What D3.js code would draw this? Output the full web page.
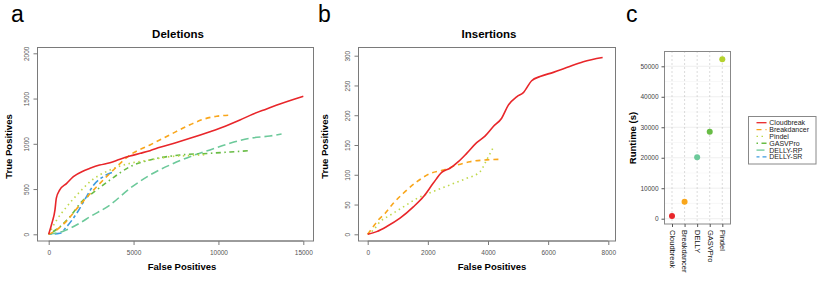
<!DOCTYPE html>
<html><head><meta charset="utf-8">
<script src="https://cdn.jsdelivr.net/npm/d3@7"></script>
<style>body{margin:0;background:#fff}svg{display:block;font-family:"Liberation Sans",Arial,Helvetica,sans-serif}</style>
</head><body><svg id="c" width="830" height="292"></svg>
<script>
// ---- Data ----
const methods = ["Cloudbreak","Breakdancer","Pindel","GASVPro","DELLY-RP","DELLY-SR"];
const colors = ["#E8262A","#F9A61B","#BFD84A","#68BC45","#6CC99A","#3D9BE0"];
const dashes = [null,"5,4","1.5,3.5","1.5,3.5,5,3.5","8,4","3,3,7,3"];

// Deletions (false positives, true positives)
const delCloudbreak = [[0,0],[200,130],[370,270],[450,400],[650,490],[1060,563],[1453,637],[2041,700],[2432,729],[3000,765],[3610,791],[4200,830],[4788,865],[5400,895],[5966,924],[6555,961],[7440,1010],[8322,1061],[9500,1134],[10400,1195],[11267,1263],[12053,1330],[12838,1385],[13623,1440],[14409,1490],[15000,1525]];
const delBreakdancer = [[0,0],[400,40],[860,110],[1843,325],[2827,526],[3610,674],[4788,876],[5966,987],[7144,1100],[8322,1210],[9100,1270],[9900,1305],[10800,1318]];
const delPindel = [[0,0],[471,158],[1060,305],[1843,471],[2432,581],[3610,711],[4788,784],[5966,821],[7144,858],[8300,870],[9300,880]];
const delGASVPro = [[0,0],[665,84],[1254,195],[2039,379],[2432,434],[2827,490],[3610,600],[4788,747],[5966,821],[7733,876],[9500,895],[10700,910],[11856,924]];
const delDellyRP = [[0,0],[860,35],[1843,125],[2432,194],[3610,324],[4788,508],[5966,655],[7144,766],[8322,858],[9500,932],[10678,1005],[11856,1061],[13034,1086],[13720,1108]];
const delDellySR = [[0,0],[665,11],[1060,84],[1649,232],[2238,420],[2627,540],[3216,637],[3900,692]];

// Insertions
const insCloudbreak = [[0,0],[299,4.5],[632,13],[1074,27],[1517,46],[1850,63],[2183,86],[2460,104],[2737,111],[3014,122],[3291,136],[3623,154],[3900,165],[4177,181],[4454,195],[4676,217],[4953,231],[5175,238],[5452,258],[5729,265],[6172,272],[6615,280],[7169,290],[7812,297]];
const insBreakdancer = [[0,0],[186,13],[352,24],[575,35],[851,52],[1184,69],[1629,88],[2072,102],[2515,108],[2958,116],[3401,122],[3956,125],[4399,126]];
const insPindel = [[0,0],[186,7],[409,21],[741,32],[1184,46],[1629,60],[2182,72],[2737,83],[3291,94],[3734,105],[3956,125],[4177,146]];

// Runtime
const runtimeTools = ["Cloudbreak","Breakdancer","DELLY","GASVPro","Pindel"];
const runtimeSeconds = [900,5600,20200,28500,52300];
const runtimeColors = ["#E8262A","#F9A61B","#6CC99A","#68BC45","#B5D22E"];

const delTicksX = [0,5000,10000,15000];
const delTicksY = [0,500,1000,1500,2000];
const insTicksX = [0,2000,4000,6000,8000];
const insTicksY = [0,50,100,150,200,250,300];
const runTicksY = [0,10000,20000,30000,40000,50000];

// ---- Drawing ----
const svg = d3.select("#c");
const boxCol = "#7a7a7a", tickTxt = "#555";

function basePanel(o){
  const g = svg.append("g");
  const x = d3.scaleLinear().domain(o.xd).range(o.xr);
  const y = d3.scaleLinear().domain(o.yd).range(o.yr);
  g.append("rect").attr("x",o.box[0]).attr("y",o.box[1]).attr("width",o.box[2]-o.box[0]).attr("height",o.box[3]-o.box[1])
    .attr("fill","none").attr("stroke",boxCol).attr("stroke-width",1);
  const xa = g.append("g").attr("transform",`translate(0,${o.box[3]})`)
    .call(d3.axisBottom(x).tickValues(o.xt).tickSize(4).tickPadding(5).tickFormat(d3.format("d")));
  xa.select(".domain").attr("d",`M${x(o.xt[0])},0H${x(o.xt[o.xt.length-1])}`).attr("stroke",boxCol);
  xa.selectAll("line").attr("stroke",boxCol);
  xa.selectAll("text").attr("font-size",6.5).attr("fill",tickTxt);
  const ya = g.append("g").attr("transform",`translate(${o.box[0]},0)`)
    .call(d3.axisLeft(y).tickValues(o.yt).tickSize(4).tickPadding(0).tickFormat(d3.format("d")));
  ya.select(".domain").attr("d",`M0,${y(o.yt[0])}V${y(o.yt[o.yt.length-1])}`).attr("stroke",boxCol);
  ya.selectAll("line").attr("stroke",boxCol);
  ya.selectAll("text").attr("font-size",6.5).attr("fill",tickTxt)
    .attr("text-anchor","middle").attr("dy",0).attr("x",0)
    .attr("transform","translate(-9,0) rotate(-90)");
  g.append("text").attr("x",o.title[1]).attr("y",37.5).attr("text-anchor","middle").attr("font-weight","bold").attr("font-size",11.5).text(o.title[0]);
  g.append("text").attr("x",o.xlab).attr("y",270).attr("text-anchor","middle").attr("font-weight","bold").attr("font-size",9.5).text("False Positives");
  g.append("text").attr("transform",`translate(${o.ylab},146.5) rotate(-90)`).attr("text-anchor","middle").attr("font-weight","bold").attr("font-size",9.5).text("True Positives");
  g.append("text").attr("x",o.letter[0]).attr("y",22).attr("font-size",23).text(o.letter[1]);
  const line = d3.line().x(d=>x(d[0])).y(d=>y(d[1])).curve(d3.curveMonotoneX);
  o.series.forEach(s=>{
    g.append("path").attr("d",line(s.data)).attr("fill","none").attr("stroke",colors[s.i])
      .attr("stroke-width",1.6).attr("stroke-dasharray",dashes[s.i]).attr("stroke-linecap","butt");
  });
}

basePanel({xd:[0,15000],xr:[48.7,303.3],yd:[0,2000],yr:[234.3,53.3],box:[37.5,47.5,313.5,241],
  xt:delTicksX,yt:delTicksY,title:["Deletions",178],xlab:182,ylab:12,letter:[11,"a"],
  series:[{i:5,data:delDellySR},{i:4,data:delDellyRP},{i:3,data:delGASVPro},{i:2,data:delPindel},{i:1,data:delBreakdancer},{i:0,data:delCloudbreak}]});
basePanel({xd:[0,8000],xr:[367.7,608.3],yd:[0,300],yr:[234.3,55.7],box:[358.5,47.5,615.5,241],
  xt:insTicksX,yt:insTicksY,title:["Insertions",489],xlab:492,ylab:327.5,letter:[318,"b"],
  series:[{i:2,data:insPindel},{i:1,data:insBreakdancer},{i:0,data:insCloudbreak}]});

// Panel c
(function(){
  const g = svg.append("g");
  const box=[664.5,51.5,730.5,224];
  const x = d3.scalePoint().domain(runtimeTools).range([672,722.3]);
  const y = d3.scaleLinear().domain([0,50000]).range([218.7,66.3]);
  [5000,15000,25000,35000,45000].forEach(v=>g.append("line").attr("x1",box[0]).attr("x2",box[2]).attr("y1",y(v)).attr("y2",y(v)).attr("stroke","#f4f4f4").attr("stroke-width",0.6));
  runTicksY.forEach(v=>g.append("line").attr("x1",box[0]).attr("x2",box[2]).attr("y1",y(v)).attr("y2",y(v)).attr("stroke","#ebebeb").attr("stroke-width",0.8));
  runtimeTools.forEach(t=>g.append("line").attr("x1",x(t)).attr("x2",x(t)).attr("y1",box[1]).attr("y2",box[3]).attr("stroke","#999").attr("stroke-width",0.7).attr("stroke-dasharray","1,3"));
  g.append("rect").attr("x",box[0]).attr("y",box[1]).attr("width",box[2]-box[0]).attr("height",box[3]-box[1]).attr("fill","none").attr("stroke","#888").attr("stroke-width",1);
  const ya = g.append("g").attr("transform",`translate(${box[0]},0)`).call(d3.axisLeft(y).tickValues(runTicksY).tickSize(3).tickPadding(3).tickFormat(d3.format("d")));
  ya.select(".domain").remove();
  ya.selectAll("line").attr("stroke","#555");
  ya.selectAll("text").attr("font-size",6.5).attr("fill","#444");
  const xa = g.append("g").attr("transform",`translate(0,${box[3]})`).call(d3.axisBottom(x).tickSize(3).tickPadding(3));
  xa.select(".domain").remove();
  xa.selectAll("line").attr("stroke","#555");
  xa.selectAll("text").attr("font-size",7.5).attr("fill","#111").attr("text-anchor","start").attr("dy","0.35em").attr("y",0)
    .attr("transform","translate(0,6) rotate(90)");
  g.selectAll("circle").data(runtimeSeconds).join("circle").attr("cx",(d,i)=>x(runtimeTools[i])).attr("cy",d=>y(d)).attr("r",3).attr("fill",(d,i)=>runtimeColors[i]);
  g.append("text").attr("transform","translate(635.5,138) rotate(-90)").attr("text-anchor","middle").attr("font-size",9.5).attr("font-weight","bold").text("Runtime (s)");
  g.append("text").attr("x",626).attr("y",22).attr("font-size",23).text("c");
  const L = svg.append("g");
  L.append("rect").attr("x",748.5).attr("y",116.5).attr("width",67.5).attr("height",47.5).attr("fill","#fff").attr("stroke","#888").attr("stroke-width",1);
  methods.forEach((m,i)=>{
    const yy = 122.7 + i*6.85;
    L.append("line").attr("x1",756.5).attr("x2",766.5).attr("y1",yy).attr("y2",yy).attr("stroke",colors[i]).attr("stroke-width",1.3).attr("stroke-dasharray",dashes[i]);
    L.append("text").attr("x",769.3).attr("y",yy).attr("dy","0.35em").attr("font-size",7).attr("fill","#222").text(m);
  });
})();
</script></body></html>
